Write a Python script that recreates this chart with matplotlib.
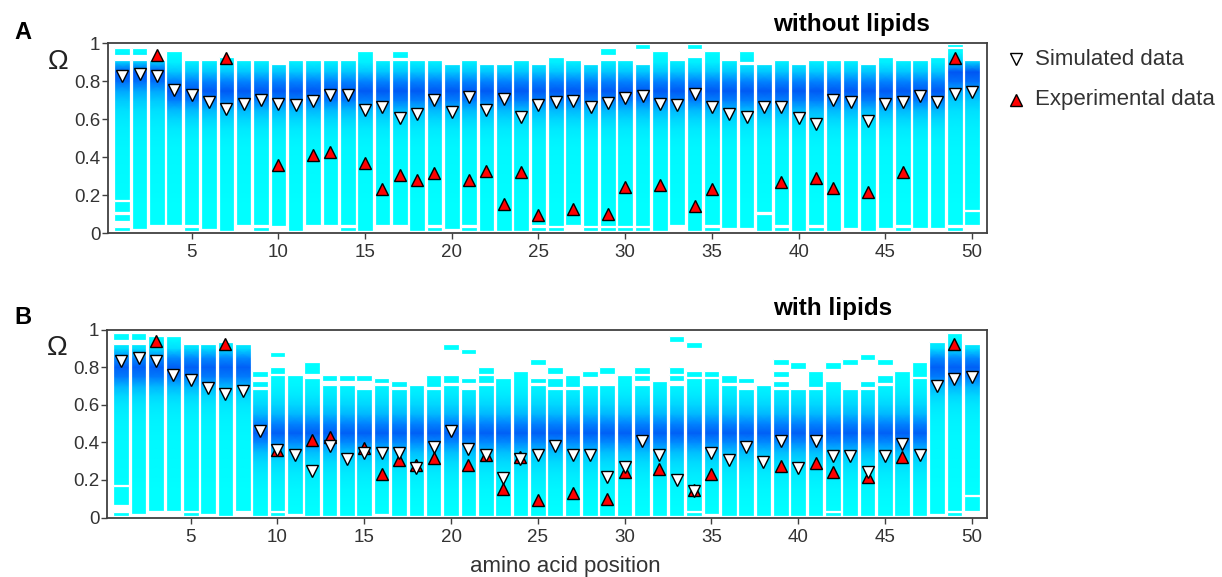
import numpy as np
import matplotlib.pyplot as plt
from matplotlib.colors import LinearSegmentedColormap
from matplotlib.patches import Rectangle, PathPatch
from matplotlib.path import Path
from matplotlib.lines import Line2D

plt.rcParams['font.family'] = ['Liberation Sans', 'DejaVu Sans']

positions = list(range(1, 51))

# simulated order parameter (white triangles)
sim_A = [0.83, 0.84, 0.83, 0.754, 0.726, 0.69, 0.656, 0.68, 0.70, 0.68,
         0.673, 0.695, 0.726, 0.726, 0.65, 0.665, 0.607, 0.63, 0.70, 0.64,
         0.717, 0.647, 0.708, 0.61, 0.675, 0.69, 0.695, 0.663, 0.684, 0.71,
         0.724, 0.68, 0.675, 0.733, 0.667, 0.63, 0.614, 0.667, 0.667, 0.607,
         0.575, 0.70, 0.69, 0.59, 0.68, 0.69, 0.72, 0.693, 0.733, 0.742]
sim_B = [0.834, 0.846, 0.834, 0.756, 0.729, 0.688, 0.658, 0.675, 0.462, 0.357,
         0.332, 0.25, 0.38, 0.31, 0.343, 0.343, 0.342, 0.265, 0.375, 0.462,
         0.364, 0.33, 0.21, 0.311, 0.33, 0.38, 0.334, 0.33, 0.213, 0.268,
         0.405, 0.334, 0.197, 0.142, 0.341, 0.307, 0.373, 0.297, 0.405, 0.263,
         0.405, 0.329, 0.327, 0.242, 0.329, 0.393, 0.334, 0.699, 0.738, 0.747]

# experimental values (red triangles), same in both panels
exp_pos = [3, 7, 10, 12, 13, 15, 16, 17, 18, 19, 21, 22, 23, 24, 25, 27, 29, 30,
           32, 34, 35, 39, 41, 42, 44, 46, 49]
exp_val = [0.937, 0.923, 0.36, 0.41, 0.43, 0.368, 0.233, 0.307, 0.28, 0.315,
           0.28, 0.33, 0.153, 0.324, 0.095, 0.128, 0.10, 0.242, 0.256, 0.146,
           0.232, 0.272, 0.29, 0.24, 0.215, 0.324, 0.923]

# occupied Omega ranges of every distribution column
segs_A = [
    [(0.011, 0.033), (0.063, 0.104), (0.112, 0.172), (0.177, 0.914), (0.937, 0.975)],
    [(0.025, 0.914), (0.937, 0.975)],
    [(0.042, 0.914)],
    [(0.042, 0.961)],
    [(0.011, 0.032), (0.042, 0.914)],
    [(0.025, 0.914)],
    [(0.011, 0.926)],
    [(0.042, 0.914)],
    [(0.011, 0.032), (0.042, 0.914)],
    [(0.037, 0.891)],
    [(0.011, 0.914)],
    [(0.042, 0.914)],
    [(0.042, 0.914)],
    [(0.011, 0.032), (0.042, 0.914)],
    [(0.011, 0.961)],
    [(0.042, 0.914)],
    [(0.042, 0.914), (0.923, 0.961)],
    [(0.011, 0.914)],
    [(0.011, 0.032), (0.042, 0.914)],
    [(0.025, 0.891)],
    [(0.011, 0.032), (0.042, 0.914)],
    [(0.011, 0.891)],
    [(0.011, 0.891)],
    [(0.011, 0.914)],
    [(0.011, 0.032), (0.042, 0.891)],
    [(0.011, 0.032), (0.037, 0.926)],
    [(0.042, 0.914)],
    [(0.011, 0.032), (0.037, 0.891)],
    [(0.011, 0.032), (0.037, 0.914), (0.94, 0.975)],
    [(0.011, 0.032), (0.037, 0.914)],
    [(0.011, 0.032), (0.037, 0.891), (0.972, 0.996)],
    [(0.011, 0.961)],
    [(0.042, 0.914)],
    [(0.011, 0.926), (0.972, 0.996)],
    [(0.011, 0.032), (0.042, 0.961)],
    [(0.028, 0.914)],
    [(0.028, 0.891), (0.902, 0.961)],
    [(0.011, 0.104), (0.112, 0.891)],
    [(0.011, 0.032), (0.042, 0.914)],
    [(0.011, 0.891)],
    [(0.011, 0.032), (0.042, 0.914)],
    [(0.011, 0.914)],
    [(0.028, 0.914)],
    [(0.011, 0.891)],
    [(0.028, 0.926)],
    [(0.011, 0.032), (0.042, 0.914)],
    [(0.028, 0.914)],
    [(0.028, 0.926)],
    [(0.011, 0.032), (0.042, 0.975), (0.979, 0.996)],
    [(0.042, 0.116), (0.125, 0.914)],
]
segs_B = [
    [(0.007, 0.028), (0.064, 0.167), (0.174, 0.921), (0.944, 0.983)],
    [(0.02, 0.921), (0.944, 0.983)],
    [(0.037, 0.967)],
    [(0.037, 0.967)],
    [(0.007, 0.028), (0.037, 0.921)],
    [(0.02, 0.921)],
    [(0.007, 0.935)],
    [(0.037, 0.921)],
    [(0.007, 0.686), (0.695, 0.725), (0.748, 0.779), (0.992, 1.0)],
    [(0.007, 0.028), (0.032, 0.757), (0.766, 0.802), (0.855, 0.882)],
    [(0.02, 0.757)],
    [(0.007, 0.743), (0.763, 0.825)],
    [(0.007, 0.704), (0.727, 0.757)],
    [(0.007, 0.704), (0.727, 0.757)],
    [(0.007, 0.683), (0.727, 0.757)],
    [(0.02, 0.704), (0.713, 0.743)],
    [(0.007, 0.686), (0.695, 0.725)],
    [(0.007, 0.704)],
    [(0.007, 0.686), (0.695, 0.757)],
    [(0.007, 0.704), (0.713, 0.757), (0.891, 0.921)],
    [(0.007, 0.686), (0.713, 0.743), (0.868, 0.896)],
    [(0.007, 0.704), (0.713, 0.757), (0.766, 0.802)],
    [(0.007, 0.743)],
    [(0.007, 0.779)],
    [(0.007, 0.704), (0.713, 0.743), (0.811, 0.843)],
    [(0.007, 0.686), (0.695, 0.743), (0.766, 0.802)],
    [(0.007, 0.686), (0.695, 0.757)],
    [(0.007, 0.704), (0.748, 0.779)],
    [(0.007, 0.704), (0.766, 0.802)],
    [(0.007, 0.757)],
    [(0.007, 0.704), (0.727, 0.757), (0.766, 0.802)],
    [(0.007, 0.725)],
    [(0.007, 0.704), (0.727, 0.757), (0.766, 0.802), (0.932, 0.965)],
    [(0.007, 0.028), (0.037, 0.743), (0.748, 0.779), (0.903, 0.935)],
    [(0.02, 0.743), (0.748, 0.779)],
    [(0.007, 0.704), (0.713, 0.757)],
    [(0.007, 0.686), (0.713, 0.743)],
    [(0.007, 0.704)],
    [(0.007, 0.686), (0.695, 0.725), (0.748, 0.779), (0.811, 0.843)],
    [(0.007, 0.686), (0.789, 0.825)],
    [(0.007, 0.686), (0.695, 0.779)],
    [(0.007, 0.028), (0.037, 0.725), (0.789, 0.825)],
    [(0.007, 0.686), (0.811, 0.843)],
    [(0.007, 0.686), (0.695, 0.725), (0.837, 0.868)],
    [(0.007, 0.704), (0.713, 0.757), (0.811, 0.843)],
    [(0.007, 0.779)],
    [(0.007, 0.743), (0.748, 0.825)],
    [(0.02, 0.935)],
    [(0.007, 0.028), (0.037, 0.983), (0.992, 1.0)],
    [(0.037, 0.114), (0.121, 0.921)],
]

# relative density at Omega = 0.0, 0.05, ..., 1.0
omega_grid = [0.0, 0.05, 0.1, 0.15, 0.2, 0.25, 0.3, 0.35, 0.4, 0.45, 0.5,
              0.55, 0.6, 0.65, 0.7, 0.75, 0.8, 0.85, 0.9, 0.95, 1.0]
dens_A_edge = [0.0, 0.0, 0.0, 0.0, 0.02, 0.03, 0.04, 0.05, 0.06, 0.08, 0.1,
               0.14, 0.2, 0.28, 0.4, 0.58, 0.85, 0.97, 0.4, 0.05, 0.0]
dens_A_mid = [0.0, 0.0, 0.0, 0.0, 0.02, 0.03, 0.04, 0.05, 0.06, 0.08, 0.12,
              0.2, 0.33, 0.5, 0.78, 0.95, 0.75, 0.42, 0.15, 0.03, 0.0]
dens_B_edge = [0.0, 0.0, 0.0, 0.0, 0.02, 0.03, 0.04, 0.05, 0.06, 0.08, 0.1,
               0.15, 0.22, 0.33, 0.52, 0.8, 0.92, 0.72, 0.28, 0.05, 0.0]
dens_B_mid = [0.0, 0.01, 0.04, 0.08, 0.14, 0.22, 0.32, 0.47, 0.72, 0.92, 0.75,
              0.5, 0.33, 0.2, 0.1, 0.04, 0.01, 0.0, 0.0, 0.0, 0.0]
group_A = [0, 0, 0] + [1] * 45 + [0, 0]
group_B = [0] * 8 + [1] * 39 + [0] * 3

cmap = LinearSegmentedColormap.from_list(
    'omega', [(0, '#00ffff'), (0.25, '#00e4ff'), (0.5, '#00b8ff'),
              (0.75, '#0084ff'), (1.0, '#0050f2')])
bw = 0.9
gray = '#333333'


def draw_panel(ax, segs, groups, profiles, sim):
    for x, bar_segs, g in zip(positions, segs, groups):
        X, Y = np.meshgrid([x - bw / 2, x + bw / 2], omega_grid)
        C = np.repeat(np.array(profiles[g])[:, None], 2, axis=1)
        mesh = ax.pcolormesh(X, Y, C, shading='gouraud', cmap=cmap, vmin=0, vmax=1,
                             zorder=1)
        verts, codes = [], []
        for lo, hi in bar_segs:
            verts += [(x - bw / 2, lo), (x + bw / 2, lo), (x + bw / 2, hi),
                      (x - bw / 2, hi), (x - bw / 2, lo)]
            codes += [Path.MOVETO, Path.LINETO, Path.LINETO, Path.LINETO, Path.CLOSEPOLY]
        clip = PathPatch(Path(verts, codes), transform=ax.transData, fc='none', ec='none')
        mesh.set_clip_path(clip)
        for lo, hi in bar_segs:
            ax.add_patch(Rectangle((x - bw / 2, lo), bw, hi - lo, fill=False,
                                   ec='white', lw=0.9, zorder=2))
    ax.plot(exp_pos, exp_val, ls='none', marker='^', ms=9, mfc='#ff0000',
            mec='black', mew=1.0, zorder=4, clip_on=False)
    ax.plot(positions, sim, ls='none', marker='v', ms=9, mfc='white',
            mec='black', mew=1.0, zorder=5, clip_on=False)
    ax.set_xlim(0.18, 50.86)
    ax.set_ylim(0, 1)
    ax.set_xticks([5, 10, 15, 20, 25, 30, 35, 40, 45, 50])
    ax.set_yticks([0, 0.2, 0.4, 0.6, 0.8, 1.0])
    ax.set_yticklabels(['0', '0.2', '0.4', '0.6', '0.8', '1'])
    ax.tick_params(axis='y', direction='out', length=4, width=1.0, pad=1.5,
                   labelsize=13.5, colors='#404040', labelcolor=gray)
    ax.tick_params(axis='x', direction='out', length=4, width=1.0, pad=4,
                   labelsize=13.5, colors='#404040', labelcolor=gray)
    for s in ax.spines.values():
        s.set_color('#404040')
        s.set_linewidth(1.3)
    ax.text(-0.057, 0.90, 'Ω', transform=ax.transAxes, ha='center', va='center',
            fontsize=20, color='#222222')


fig = plt.figure(figsize=(12.22, 5.77), dpi=100)
axA = fig.add_axes([0.0884, 0.5957, 0.7193, 0.3293])
axB = fig.add_axes([0.0876, 0.1031, 0.7198, 0.3258])

draw_panel(axA, segs_A, group_A, [dens_A_edge, dens_A_mid], sim_A)
draw_panel(axB, segs_B, group_B, [dens_B_edge, dens_B_mid], sim_B)

fig.text(0.0184, 0.943, 'A', fontsize=17, fontweight='bold', ha='center', va='center')
fig.text(0.0184, 0.449, 'B', fontsize=17, fontweight='bold', ha='center', va='center')
fig.text(0.6326, 0.958, 'without lipids', fontsize=17.5, fontweight='bold', va='center')
fig.text(0.6326, 0.4645, 'with lipids', fontsize=17.5, fontweight='bold', va='center')
fig.text(0.4624, 0.019, 'amino acid position', fontsize=16, color=gray,
         ha='center', va='center')

# legend
fig.add_artist(Line2D([0.8314], [0.8977], marker='v', ms=9, mfc='white', mec='black',
                      mew=1.0, ls='none', transform=fig.transFigure))
fig.add_artist(Line2D([0.8314], [0.8267], marker='^', ms=9, mfc='#ff0000', mec='black',
                      mew=1.0, ls='none', transform=fig.transFigure))
fig.text(0.847, 0.8977, 'Simulated data', fontsize=16, color=gray, va='center')
fig.text(0.847, 0.8267, 'Experimental data', fontsize=16, color=gray, va='center')

fig.savefig('out.png', dpi=100)
